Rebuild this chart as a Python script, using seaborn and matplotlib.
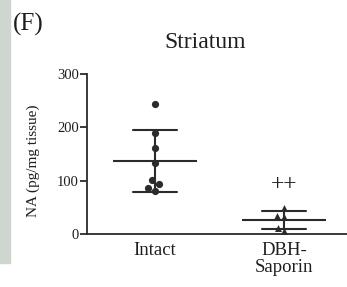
import numpy as np
import pandas as pd
import matplotlib
matplotlib.use("Agg")
import matplotlib.pyplot as plt
import seaborn as sns
from matplotlib.patches import Rectangle

# values (pg/mg tissue)
groups = ["Intact", "DBH-\nSaporin"]
intact_vals = [243, 190, 161, 134, 101, 93, 86, 81]
dbh_vals = [48, 34, 31, 12, 6]
yticks = [0, 100, 200, 300]

df = pd.DataFrame({
    "group": [groups[0]] * len(intact_vals) + [groups[1]] * len(dbh_vals),
    "NA": intact_vals + dbh_vals,
})

sns.set_theme(style="ticks")
plt.rcParams["font.family"] = ["Liberation Serif", "DejaVu Serif"]
ink = "#2b2b2b"
txt = "#1e1e1e"

fig = plt.figure(figsize=(3.47, 2.87), dpi=100)
# strip of the neighbouring panel on the left edge
fig.patches.append(Rectangle((0, 1 - 263 / 287), 10 / 347, 263 / 287,
                             transform=fig.transFigure, color="#cfd5cf", zorder=0))
ax = fig.add_axes([0.251, 0.185, 0.749, 0.557])

sns.swarmplot(data=df[df.group == groups[0]], x="group", y="NA", order=groups,
              color=ink, marker="o", size=5.2, ax=ax, zorder=3)
sns.swarmplot(data=df[df.group == groups[1]], x="group", y="NA", order=groups,
              color=ink, marker="^", size=5.0, ax=ax, zorder=3)
sns.pointplot(data=df, x="group", y="NA", order=groups, errorbar="sd",
              capsize=0.34, linestyle="none", marker="_", markersize=61,
              markeredgewidth=1.5, err_kws={"linewidth": 1.5}, color=ink, ax=ax, zorder=2)

ax.set_xlim(-0.527, 1.488)
ax.set_ylim(0, 300)
ax.set_yticks(yticks)
ax.spines["left"].set_bounds(0, 300)
for s in ["left", "bottom"]:
    ax.spines[s].set_color(ink)
    ax.spines[s].set_linewidth(1.3)
sns.despine(ax=ax)
ax.tick_params(axis="y", length=5, width=1.3, color=ink, labelsize=10.5, pad=1, labelcolor=txt)
ax.tick_params(axis="x", length=0, labelsize=13.5, pad=6, labelcolor=txt)
for lab in ax.get_xticklabels():
    lab.set_linespacing(0.95)
ax.set_xlabel("")
ax.set_ylabel("NA (pg/mg tissue)", fontsize=11, color=txt, va="center")
ax.yaxis.set_label_coords(-0.208, 0.46)
ax.set_facecolor("none")

ax.text(1, 92, "++", ha="center", va="center", fontsize=17, color=txt)
fig.text(205 / 347, 1 - 43 / 287, "Striatum", ha="center", va="center",
         fontsize=17, color=txt)
fig.text(28 / 347, 1 - 24 / 287, "(F)", ha="center", va="center",
         fontsize=18, color=txt)

fig.savefig("out.png", dpi=100)
